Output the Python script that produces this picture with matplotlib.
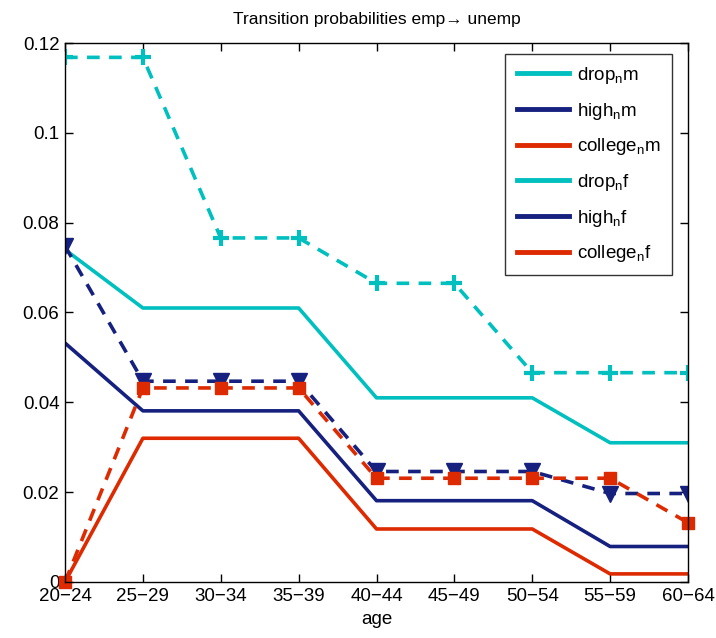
import numpy as np
import matplotlib
matplotlib.use("Agg")
import matplotlib.pyplot as plt

plt.rcParams['font.family'] = ['Liberation Sans', 'DejaVu Sans']

# Data
ages = ['20\u221224', '25\u221229', '30\u221234', '35\u221239', '40\u221244',
        '45\u221249', '50\u221254', '55\u221259', '60\u221264']

drop_m = [0.074, 0.061, 0.061, 0.061, 0.041, 0.041, 0.041, 0.031, 0.031]
high_m = [0.0532, 0.0381, 0.0381, 0.0381, 0.0181, 0.0181, 0.0181, 0.0079, 0.0079]
college_m = [0.0, 0.032, 0.032, 0.032, 0.0118, 0.0118, 0.0118, 0.0018, 0.0018]
drop_f = [0.1168, 0.1168, 0.0766, 0.0766, 0.0665, 0.0665, 0.0466, 0.0466, 0.0466]
high_f = [0.0748, 0.0447, 0.0447, 0.0447, 0.0246, 0.0246, 0.0246, 0.0197, 0.0197]
college_f = [0.0, 0.0432, 0.0432, 0.0432, 0.0231, 0.0231, 0.0231, 0.0231, 0.0132]

cyan = '#00bfbf'
navy = '#15207f'
red = '#dd2a00'

x = np.arange(len(ages))

fig = plt.figure(figsize=(7.16, 6.38), dpi=100)
ax = fig.add_axes([0.0908, 0.0878, 0.8701, 0.8448])

lw = 2.6
dash = (0, (3.5, 2.6))

# solid lines (male)
ax.plot(x, drop_m, color=cyan, lw=lw, label=r'drop$_\mathregular{n}$m')
ax.plot(x, high_m, color=navy, lw=lw, label=r'high$_\mathregular{n}$m')
ax.plot(x, college_m, color=red, lw=lw, label=r'college$_\mathregular{n}$m')

# dashed lines with markers (female)
ax.plot(x, drop_f, color=cyan, lw=lw, ls=dash, marker='+', ms=11, mew=3,
        label=r'drop$_\mathregular{n}$f')
ax.plot(x, high_f, color=navy, lw=lw, ls=dash, marker='v', ms=11,
        label=r'high$_\mathregular{n}$f')
ax.plot(x, college_f, color=red, lw=lw, ls=dash, marker='s', ms=9,
        label=r'college$_\mathregular{n}$f', clip_on=False)

ax.set_xlim(0, len(ages) - 1)
ax.set_ylim(0, 0.12)
ax.set_xticks(x)
ax.set_xticklabels(ages)
ax.set_yticks([0, 0.02, 0.04, 0.06, 0.08, 0.1, 0.12])
ax.set_yticklabels(['0', '0.02', '0.04', '0.06', '0.08', '0.1', '0.12'])
ax.tick_params(direction='in', top=True, right=True, length=6, width=1,
               labelsize=13.5, pad=4)
for s in ax.spines.values():
    s.set_linewidth(1)

ax.set_xlabel('age', fontsize=13.5, labelpad=5)
ax.set_title('Transition probabilities emp\u2192 unemp', fontsize=12.5, pad=14)

# legend shows plain solid lines
handles = [plt.Line2D([], [], color=c, lw=3.5) for c in
           [cyan, navy, red, cyan, navy, red]]
labels = [h.get_label() for h in ax.get_lines()]
leg = ax.legend(handles, labels, loc='upper right', fontsize=13.5,
                bbox_to_anchor=(0.974, 0.98), borderaxespad=0,
                frameon=True, fancybox=False,
                edgecolor='black', handlelength=2.8, handletextpad=0.4,
                labelspacing=0.78, borderpad=0.6)
leg.get_frame().set_linewidth(1)

fig.savefig('out.png', dpi=100)
